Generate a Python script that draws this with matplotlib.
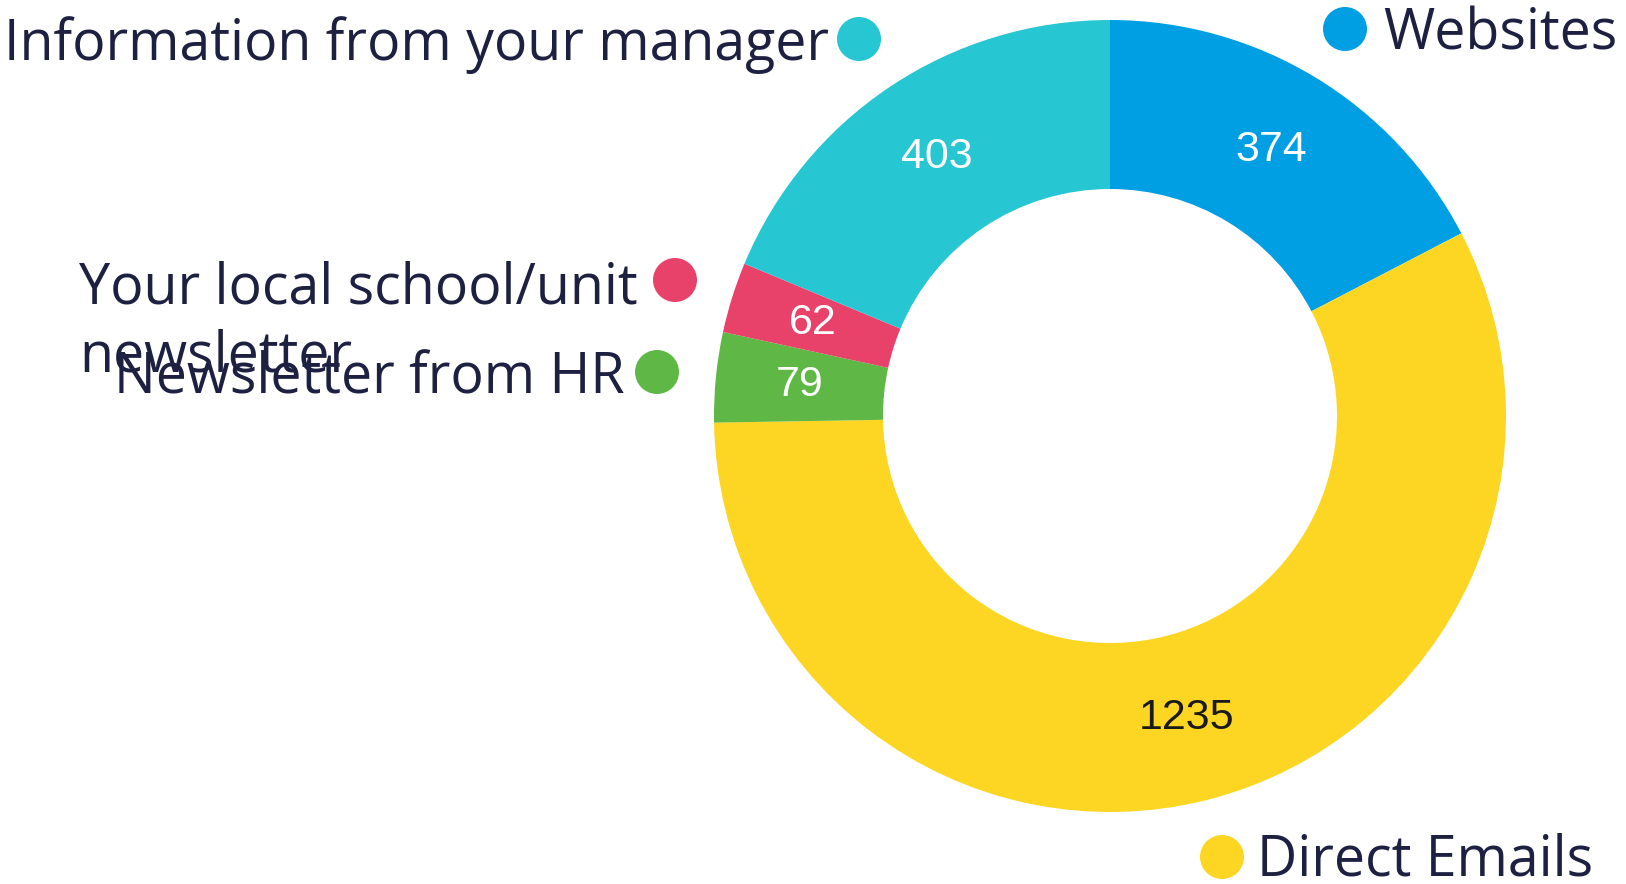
import matplotlib
matplotlib.use("Agg")
import matplotlib.pyplot as plt
from matplotlib.patches import Circle
import numpy as np

categories = ["Websites", "Direct Emails", "Newsletter from HR",
              "Your local school/unit\nnewsletter", "Information from your manager"]
values = [374, 1235, 79, 62, 403]
colors = ["#009ee2", "#fcd623", "#5fb746", "#e8426a", "#27c6d3"]
value_colors = ["white", "#1a1a1a", "white", "white", "white"]

W, H = 1626, 884
fig = plt.figure(figsize=(W / 100, H / 100), dpi=100)

cx, cy, R = 1110, 416, 396
ax = fig.add_axes([(cx - R) / W, (H - cy - R) / H, 2 * R / W, 2 * R / H])
wedges, _ = ax.pie(values, colors=colors, startangle=90, counterclock=False,
                   radius=1.0, wedgeprops=dict(width=1 - 227 / 396, linewidth=0))
ax.set_xlim(-1, 1)
ax.set_ylim(-1, 1)
ax.set_aspect("equal")
ax.axis("off")

rmid = (1 + 227 / 396) / 2
for w, v, c in zip(wedges, values, value_colors):
    ang = np.deg2rad((w.theta1 + w.theta2) / 2)
    ax.text(rmid * np.cos(ang), rmid * np.sin(ang), str(v), ha="center", va="center",
            fontsize=31, color=c, family="Liberation Sans")

# overlay in pixel coordinates for outer labels
ov = fig.add_axes([0, 0, 1, 1])
ov.set_xlim(0, W)
ov.set_ylim(H, 0)
ov.axis("off")
ov.patch.set_alpha(0)

txt_color = "#1d2040"
fs = 40
# (text x, baseline y, dot x, dot y)
label_pos = {
    "Websites": (1383, 50, 1345, 29),
    "Direct Emails": (1257, 876, 1222, 857),
    "Newsletter from HR": (114, 394, 657, 372),
    "Your local school/unit\nnewsletter": (79, 303, 675, 280),
    "Information from your manager": (4, 60, 859, 39),
}
for cat, col in zip(categories, colors):
    tx, ty, dx, dy = label_pos[cat]
    lines = cat.split("\n")
    for i, line in enumerate(lines):
        ov.text(tx, ty + i * 68, line, ha="left", va="baseline", fontsize=fs,
                color=txt_color, family="Open Sans")
    ov.add_patch(Circle((dx, dy), 22, color=col, lw=0))

fig.savefig("out.png", dpi=100)
